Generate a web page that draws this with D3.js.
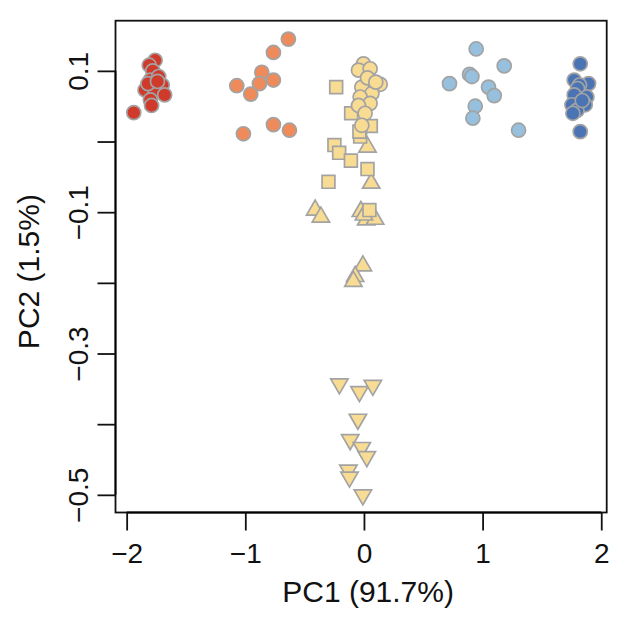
<!DOCTYPE html>
<html>
<head>
<meta charset="utf-8">
<script src="https://cdn.jsdelivr.net/npm/d3@7"></script>
<style>
  body { margin: 0; background: #fff; }
  text { font-family: "Liberation Sans", Arial, sans-serif; fill: #111; }
</style>
</head>
<body>
<div id="pca"></div>
<script>
var width = 632,
    height = 618,
    margin = {top: 20.7, bottom: 105.5, left: 115.5, right: 25.3};

// PC1 / PC2 scores per group
var redPts = [[-1.76,0.115],[-1.81,0.108],[-1.78,0.100],[-1.80,0.087],[-1.73,0.092],[-1.775,0.077],
              [-1.70,0.080],[-1.845,0.073],[-1.76,0.070],[-1.68,0.066],[-1.80,0.059],[-1.79,0.051],
              [-1.94,0.041],[-1.82,0.082],[-1.74,0.085]];
var orangePts = [[-0.637,0.145],[-0.763,0.126],[-0.861,0.098],[-0.763,0.087],[-0.881,0.082],
                 [-1.072,0.079],[-0.954,0.067],[-1.016,0.011],[-0.763,0.024],[-0.628,0.016]];
var yellowCircles = [[-0.004,0.110],[-0.046,0.101],[0.052,0.103],[0.137,0.081],[-0.018,0.077],
                     [0.067,0.068],[-0.032,0.063],[0.052,0.054],[-0.046,0.051],[0.010,0.040],
                     [-0.018,0.023],[0.03,0.090],[0.10,0.084]];
var yellowSquares = [[-0.234,0.077],[-0.108,0.040],[0.058,0.022],[-0.032,0.007],[-0.249,-0.005],
                     [-0.209,-0.016],[-0.110,-0.027],[-0.038,0.014],[0.030,-0.039],[-0.299,-0.057],
                     [0.046,-0.097]];
var yellowUp = [[0.030,-0.008],[0.061,-0.059],[-0.411,-0.097],[-0.363,-0.107],[-0.026,-0.099],
                [0.019,-0.111],[0.094,-0.110],[-0.009,-0.176],[-0.074,-0.191],[-0.089,-0.198],
                [0.0,-0.104]];
var yellowDown = [[-0.207,-0.343],[-0.038,-0.354],[0.075,-0.345],[-0.051,-0.393],[-0.116,-0.422],
                  [-0.018,-0.433],[0.024,-0.446],[-0.131,-0.465],[-0.122,-0.475],[-0.009,-0.500]];
var lightBluePts = [[0.946,0.131],[1.182,0.107],[0.721,0.082],[0.890,0.095],[0.910,0.092],
                    [1.050,0.077],[1.098,0.065],[0.938,0.050],[0.918,0.033],[1.303,0.016]];
var darkBluePts = [[1.823,0.110],[1.772,0.087],[1.893,0.082],[1.817,0.080],[1.80,0.075],
                   [1.772,0.066],[1.879,0.063],[1.753,0.052],[1.865,0.052],[1.795,0.044],
                   [1.761,0.040],[1.84,0.058],[1.823,0.014]];

var xTicks = [-2, -1, 0, 1, 2];
var yTicks = [0.1, 0, -0.1, -0.2, -0.3, -0.4, -0.5];
var yLabels = ["0.1", "", "\u22120.1", "", "\u22120.3", "", "\u22120.5"];
var xLabel = "PC1 (91.7%)",
    yLabel = "PC2 (1.5%)";

var groups = [
  {pts: redPts, fill: "#cf3a2b", shape: "circle"},
  {pts: orangePts, fill: "#ef8a5b", shape: "circle"},
  {pts: lightBluePts, fill: "#96c0dd", shape: "circle"},
  {pts: darkBluePts, fill: "#4a74b4", shape: "circle"},
  {pts: yellowDown, fill: "#f9dc94", shape: "down"},
  {pts: yellowUp, fill: "#f9dc94", shape: "up"},
  {pts: yellowSquares, fill: "#f9dc94", shape: "square"},
  {pts: yellowCircles, fill: "#f9dc94", shape: "circle"}
];

var svg = d3.select('#pca')
    .append('svg')
    .attr('width', width)
    .attr('height', height);

var xScale = d3.scaleLinear()
    .domain([-2.094, 2.046])
    .range([margin.left, width - margin.right]);
var yScale = d3.scaleLinear()
    .domain([-0.525, 0.171])
    .range([height - margin.bottom, margin.top]);

var bottom = height - margin.bottom;

// box
svg.append("rect")
    .attr("x", margin.left)
    .attr("y", margin.top)
    .attr("width", width - margin.left - margin.right)
    .attr("height", bottom - margin.top)
    .attr("fill", "none")
    .attr("stroke", "#111")
    .attr("stroke-width", 1.8);

// x axis
var xAxis = svg.append("g")
    .attr("transform", "translate(0," + bottom + ")")
    .call(d3.axisBottom(xScale).tickValues(xTicks).tickSize(18)
          .tickFormat(function(d){ return d < 0 ? "\u2212" + Math.abs(d) : d; }));
xAxis.select(".domain")
    .attr("d", "M" + xScale(-2) + ",0H" + xScale(2))
    .attr("stroke-width", 1.8);
xAxis.selectAll(".tick line").attr("stroke", "#111").attr("stroke-width", 1.8);
xAxis.selectAll(".tick text")
    .attr("y", 0).attr("dy", null)
    .attr("transform", "translate(0,50)")
    .style("font-size", "28px")
    .style("font-family", "Liberation Sans, Arial, sans-serif")
    .attr("fill", "#111");

// y axis
var yAxis = svg.append("g")
    .attr("transform", "translate(" + margin.left + ",0)")
    .call(d3.axisLeft(yScale).tickValues(yTicks).tickSize(18)
          .tickFormat(function(d, i){ return yLabels[i]; }));
yAxis.select(".domain")
    .attr("d", "M0," + yScale(0.1) + "V" + yScale(-0.5))
    .attr("stroke-width", 1.8);
yAxis.selectAll(".tick line").attr("stroke", "#111").attr("stroke-width", 1.8);
yAxis.selectAll(".tick text")
    .attr("x", 0).attr("dy", null)
    .attr("text-anchor", "middle")
    .attr("transform", "translate(-28,0) rotate(-90)")
    .style("font-size", "28px")
    .style("font-family", "Liberation Sans, Arial, sans-serif")
    .attr("fill", "#111");

// axis titles
svg.append("text")
    .attr("x", (margin.left + width - margin.right) / 2 + 7)
    .attr("y", 602)
    .attr("text-anchor", "middle")
    .style("font-size", "30px")
    .text(xLabel);

svg.append("text")
    .attr("transform", "translate(39," + ((margin.top + bottom) / 2 + 5) + ") rotate(-90)")
    .attr("text-anchor", "middle")
    .style("font-size", "30px")
    .text(yLabel);

// points
var symbols = {
  circle: d3.symbol().type(d3.symbolCircle).size(155),
  square: d3.symbol().type(d3.symbolSquare).size(165),
  up: d3.symbol().type(d3.symbolTriangle).size(130),
  down: d3.symbol().type(d3.symbolTriangle).size(130)
};

var pts = svg.append("g");
for (var i = 0; i < groups.length; i++) {
  var g = groups[i];
  pts.selectAll(null)
    .data(g.pts)
    .enter().append("path")
    .attr("d", symbols[g.shape]())
    .attr("transform", function(d) {
      return "translate(" + xScale(d[0]) + "," + yScale(d[1]) + ")" + (g.shape == "down" ? " rotate(180)" : "");
    })
    .attr("fill", g.fill)
    .attr("stroke", "#a3a3a3")
    .attr("stroke-width", 1.7);
}
</script>
</body>
</html>
